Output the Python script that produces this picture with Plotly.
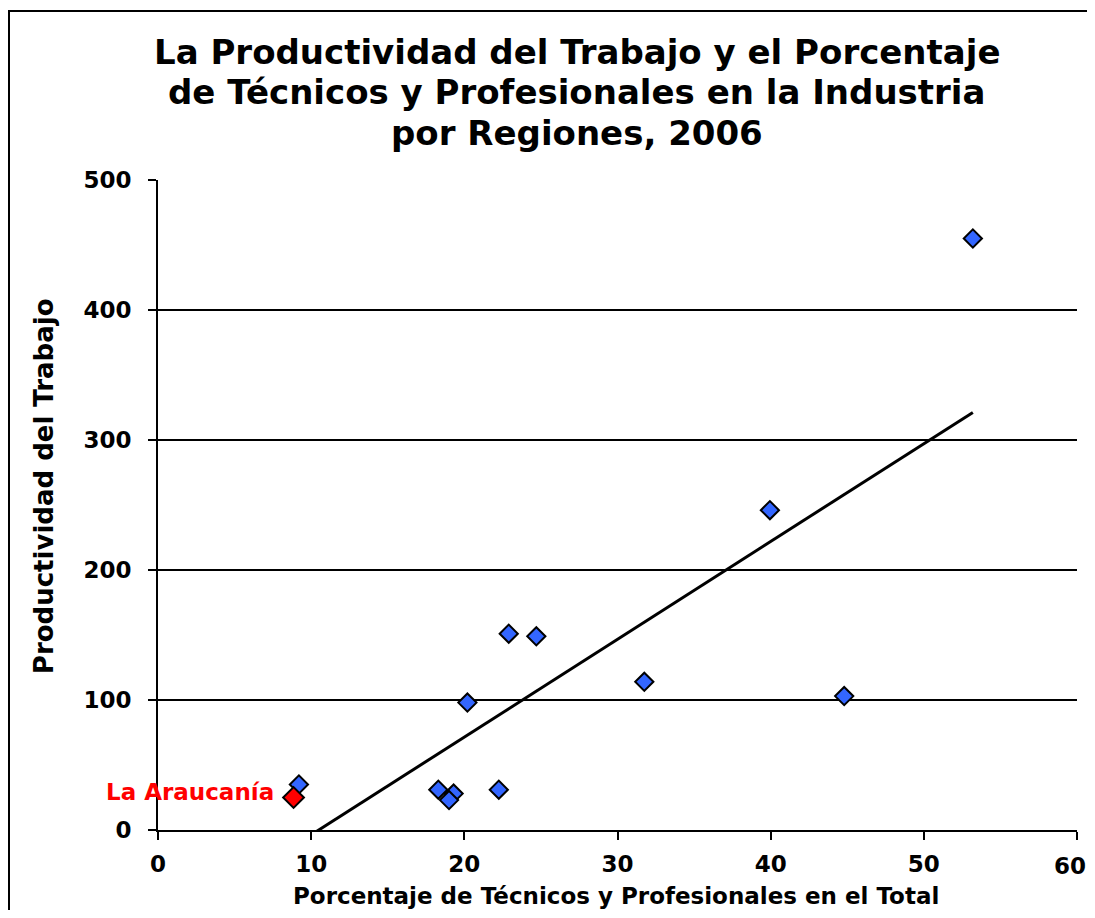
import numpy as np
import plotly.graph_objects as go

# Porcentaje de técnicos y profesionales (x) y productividad (y) por región
pct_tecnicos = [53.2, 39.95, 44.8, 31.75, 24.7, 22.9, 20.2, 22.25, 18.3, 19.3, 19.0, 9.2]
productividad = [455, 246, 103, 114, 149, 151, 98, 31, 31, 28, 23, 35]
araucania_x = [8.85]
araucania_y = [25]
araucania_label = "La Araucanía"

title_lines = ["La Productividad del Trabajo y el Porcentaje",
               "de Técnicos y Profesionales en la Industria",
               "por Regiones, 2006"]
x_title = "Porcentaje de Técnicos y Profesionales en el Total"
y_title = "Productividad del Trabajo"

x_ticks = [0, 10, 20, 30, 40, 50, 60]
y_ticks = [0, 100, 200, 300, 400, 500]

FONT = "Verdana, DejaVu Sans, sans-serif"

# linear trend over all regions
all_x = np.array(pct_tecnicos + araucania_x)
all_y = np.array(productividad + araucania_y)
slope, intercept = np.polyfit(all_x, all_y, 1)
trend_x = np.array([all_x.min(), all_x.max()])
trend_y = slope * trend_x + intercept

fig = go.Figure()
fig.add_trace(go.Scatter(
    x=trend_x, y=trend_y, mode="lines",
    line=dict(color="black", width=3), hoverinfo="skip", showlegend=False))
fig.add_trace(go.Scatter(
    x=pct_tecnicos, y=productividad, mode="markers",
    marker=dict(symbol="diamond", size=14, color="#3366FF",
                line=dict(color="black", width=2)),
    showlegend=False))
fig.add_trace(go.Scatter(
    x=araucania_x, y=araucania_y, mode="markers",
    marker=dict(symbol="diamond", size=16, color="#FF0000",
                line=dict(color="black", width=2)),
    showlegend=False))

fig.add_annotation(
    x=araucania_x[0], y=araucania_y[0], xref="x", yref="y",
    text=f"<b>{araucania_label}</b>", showarrow=False,
    xanchor="right", yanchor="middle", xshift=-18, yshift=6,
    font=dict(family=FONT, size=23, color="#FF0000"))

PW = 919.0   # plot width in px
PL = 158.0   # plot left on screen

# title, one annotation per line
for ty, line in zip([1.197, 1.135, 1.072], title_lines):
    fig.add_annotation(
        x=(576.5 - PL) / PW, y=ty, xref="paper", yref="paper", showarrow=False,
        xanchor="center", yanchor="middle", text=f"<b>{line}</b>",
        font=dict(family=FONT, size=34, color="black"))

# axis titles
fig.add_annotation(
    x=(616 - PL) / PW, y=-(896 - 830) / 650, xref="paper", yref="paper", showarrow=False,
    xanchor="center", yanchor="middle", text=f"<b>{x_title}</b>",
    font=dict(family=FONT, size=23, color="black"))
fig.add_annotation(
    x=(44 - PL) / PW, y=0.529, xref="paper", yref="paper", showarrow=False,
    xanchor="center", yanchor="middle", textangle=-90, text=f"<b>{y_title}</b>",
    font=dict(family=FONT, size=26, color="black"))

# last x tick label, nudged inward so it stays inside the page
x_ticktext = [f"<b>{v}</b>" for v in x_ticks[:-1]] + [""]
fig.add_annotation(
    x=x_ticks[-1], y=0, xref="x", yref="paper", showarrow=False,
    xanchor="center", yanchor="top", xshift=-7, yshift=-21,
    text=f"<b>{x_ticks[-1]}</b>",
    font=dict(family=FONT, size=23, color="black"))

fig.update_layout(
    width=1087, height=902,
    margin=dict(l=150, r=18, t=172, b=80, autoexpand=False),
    paper_bgcolor="white", plot_bgcolor="white",
    font=dict(family=FONT, color="black"),
    xaxis=dict(
        range=[0, 60], tickvals=x_ticks, ticktext=x_ticktext,
        tickfont=dict(family=FONT, size=23, color="black"),
        showgrid=False, zeroline=False, automargin=False,
        showline=True, linecolor="black", linewidth=2,
        ticks="outside", ticklen=8, tickwidth=2, tickcolor="black",
        ticklabelstandoff=4),
    yaxis=dict(
        range=[0, 500], tickvals=y_ticks,
        ticktext=[f"<b>{v}</b>" for v in y_ticks],
        tickfont=dict(family=FONT, size=23, color="black"),
        showgrid=True, gridcolor="black", gridwidth=1.5, zeroline=False,
        automargin=False,
        showline=True, linecolor="black", linewidth=2,
        ticks="outside", ticklen=8, tickwidth=2, tickcolor="black",
        ticklabelstandoff=12),
)

# outer chart border
fig.add_shape(type="rect", xref="paper", yref="paper",
              x0=(9 - PL) / PW, x1=1.05, y0=-0.3, y1=(830 - 11) / 650,
              line=dict(color="black", width=2), fillcolor="rgba(0,0,0,0)",
              layer="below")

fig.write_html("out.html")
